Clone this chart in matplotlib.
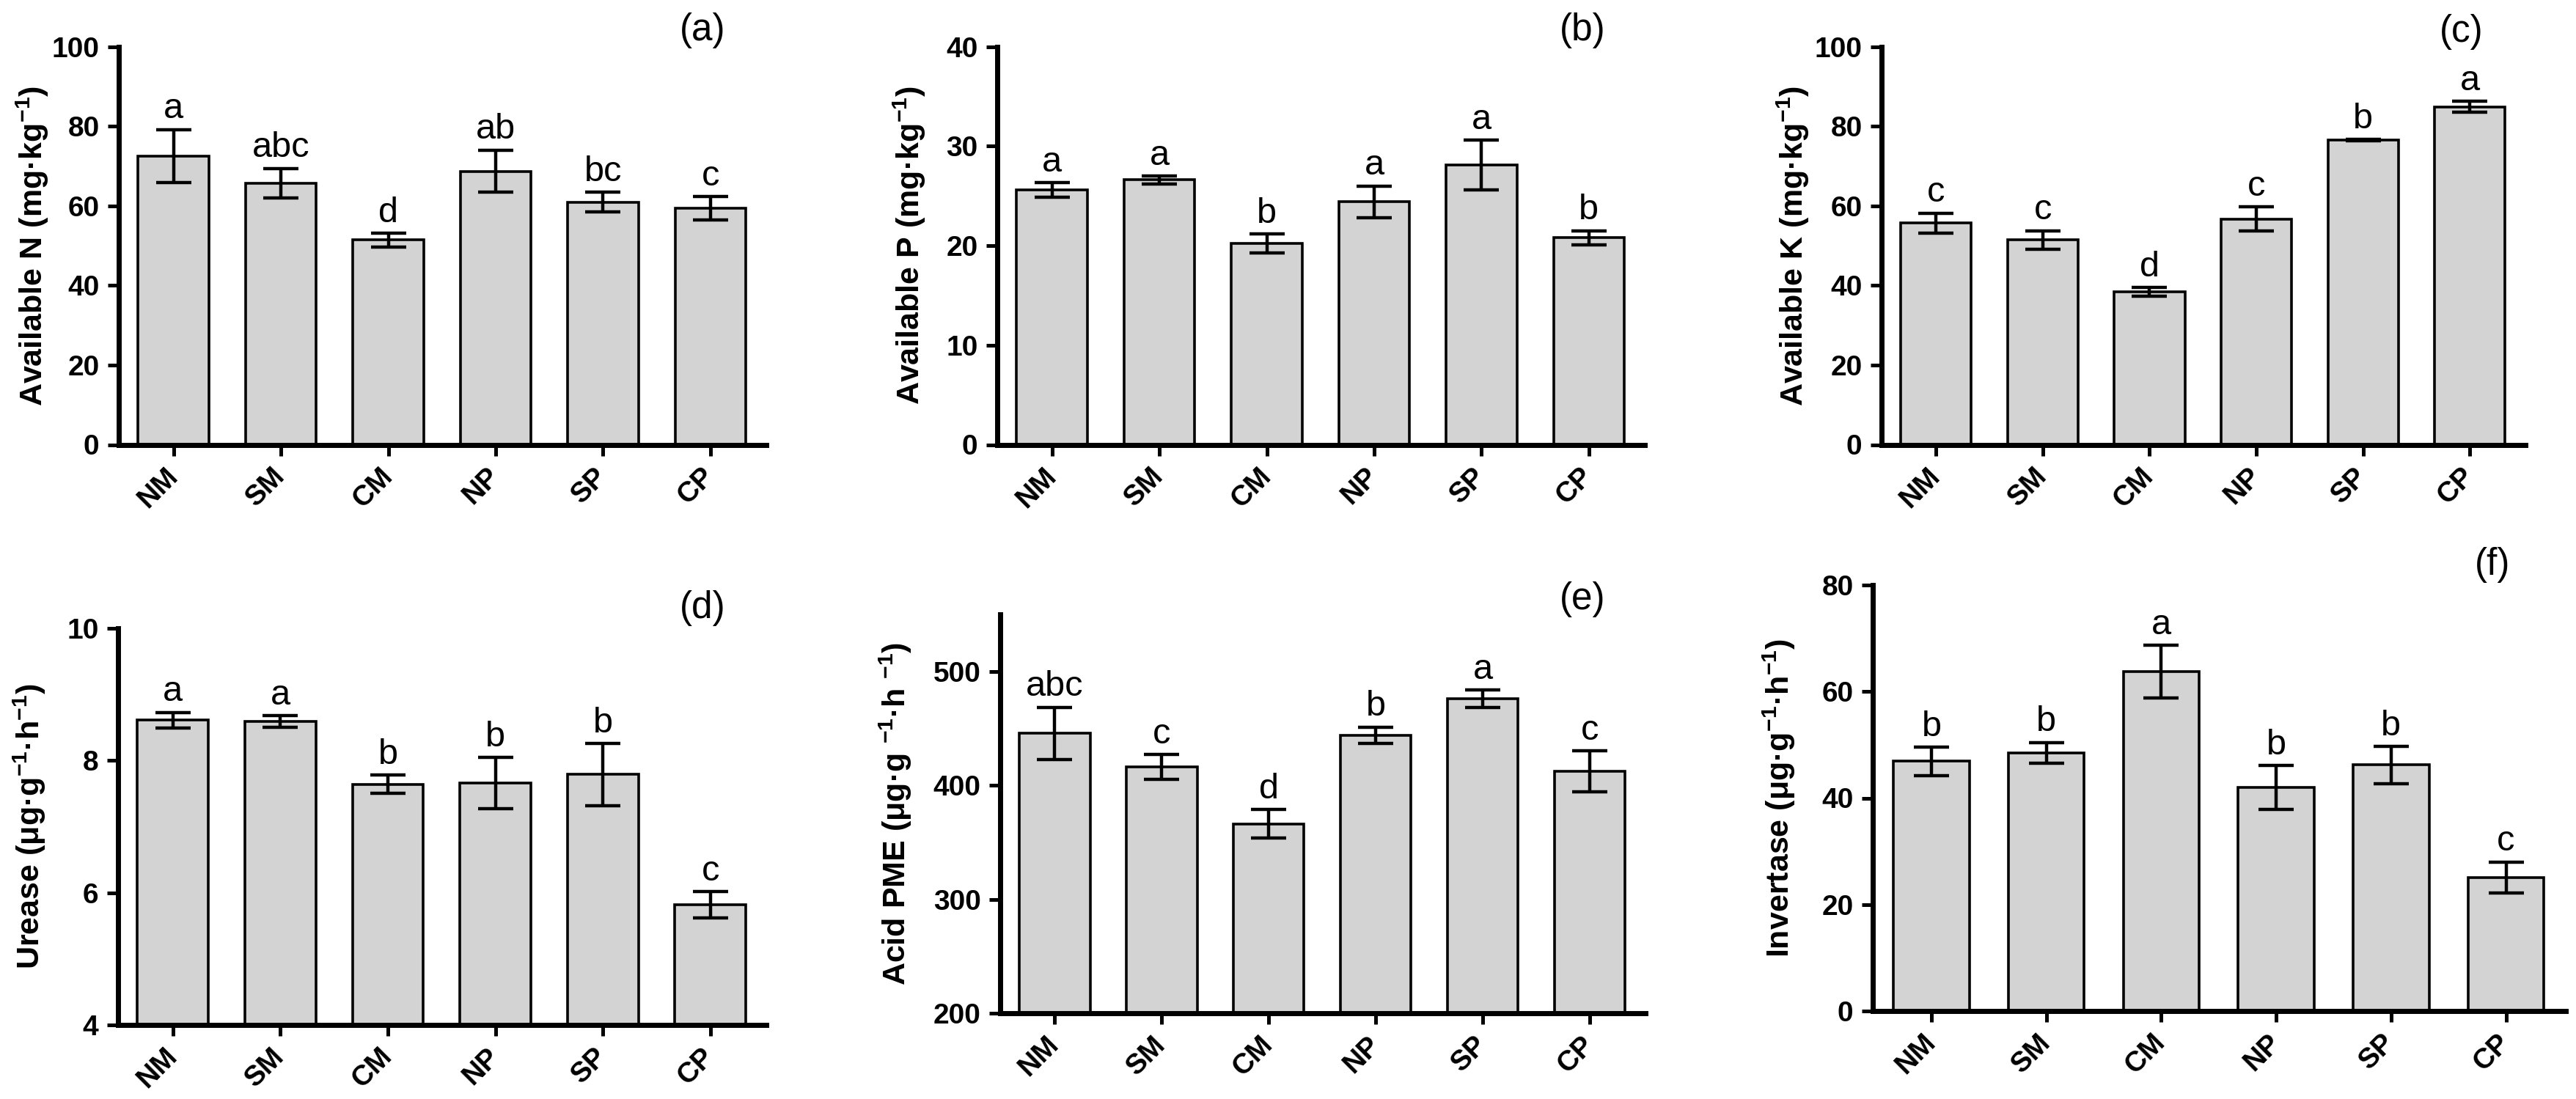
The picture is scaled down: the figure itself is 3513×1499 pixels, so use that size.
import matplotlib
matplotlib.use('Agg')
import matplotlib.pyplot as plt
import numpy as np

plt.rcParams['font.family'] = ['Liberation Sans', 'DejaVu Sans']
plt.rcParams['mathtext.default'] = 'regular'

W, H = 3513, 1499

categories = ['NM', 'SM', 'CM', 'NP', 'SP', 'CP']

# (a) Available N
avail_n = [72.5, 65.7, 51.4, 68.7, 60.9, 59.4]
avail_n_err = [6.7, 3.7, 1.7, 5.3, 2.5, 2.9]
avail_n_letters = ['a', 'abc', 'd', 'ab', 'bc', 'c']

# (b) Available P
avail_p = [25.6, 26.6, 20.2, 24.4, 28.1, 20.8]
avail_p_err = [0.75, 0.4, 0.95, 1.6, 2.5, 0.7]
avail_p_letters = ['a', 'a', 'b', 'a', 'a', 'b']

# (c) Available K
avail_k = [55.7, 51.4, 38.4, 56.7, 76.5, 84.9]
avail_k_err = [2.5, 2.35, 1.1, 3.05, 0.2, 1.35]
avail_k_letters = ['c', 'c', 'd', 'c', 'b', 'a']

# (d) Urease
urease = [8.61, 8.59, 7.64, 7.66, 7.79, 5.82]
urease_err = [0.12, 0.09, 0.14, 0.39, 0.47, 0.20]
urease_letters = ['a', 'a', 'b', 'b', 'b', 'c']

# (e) Acid PME
pme = [445.5, 416.2, 366.3, 443.9, 475.9, 412.5]
pme_err = [23.0, 10.8, 12.4, 7.2, 7.7, 17.9]
pme_letters = ['abc', 'c', 'd', 'b', 'a', 'c']

# (f) Invertase
invertase = [46.9, 48.5, 63.75, 42.0, 46.2, 25.1]
invertase_err = [2.65, 1.95, 4.9, 4.15, 3.45, 2.9]
invertase_letters = ['b', 'b', 'a', 'b', 'b', 'c']

panels = [
    dict(vals=avail_n, err=avail_n_err, letters=avail_n_letters,
         ylabel='Available N (mg·kg$^{-1}$)', ylim=(0, 100), yticks=[0, 20, 40, 60, 80, 100],
         tag='(a)', box=(162, 1045, 63.6, 606.5), laboff=93, tagpos=(958, 41)),
    dict(vals=avail_p, err=avail_p_err, letters=avail_p_letters,
         ylabel='Available P (mg·kg$^{-1}$)', ylim=(0, 40), yticks=[0, 10, 20, 30, 40],
         tag='(b)', box=(1360, 2243, 63.6, 606.5), laboff=95, tagpos=(2158, 41)),
    dict(vals=avail_k, err=avail_k_err, letters=avail_k_letters,
         ylabel='Available K (mg·kg$^{-1}$)', ylim=(0, 100), yticks=[0, 20, 40, 60, 80, 100],
         tag='(c)', box=(2566, 3444, 63.6, 606.5), laboff=96, tagpos=(3357, 43)),
    dict(vals=urease, err=urease_err, letters=urease_letters,
         ylabel='Urease (μg·g$^{-1}$·h$^{-1}$)', ylim=(4, 10), yticks=[4, 6, 8, 10],
         tag='(d)', box=(161, 1045, 857, 1398), laboff=96, tagpos=(958, 830)),
    dict(vals=pme, err=pme_err, letters=pme_letters,
         ylabel='Acid PME (μg·g $^{-1}$·h $^{-1}$)', ylim=(200, 550), yticks=[200, 300, 400, 500],
         tag='(e)', box=(1364, 2244, 838, 1382), laboff=118, tagpos=(2158, 817)),
    dict(vals=invertase, err=invertase_err, letters=invertase_letters,
         ylabel='Invertase (μg·g$^{-1}$·h$^{-1}$)', ylim=(0, 80), yticks=[0, 20, 40, 60, 80],
         tag='(f)', box=(2554, 3499, 798, 1379), laboff=103, tagpos=(3399, 771)),
]

fig = plt.figure(figsize=(W / 100, H / 100), dpi=100)
x = np.arange(len(categories))

for p in panels:
    x0, x1, ytop, ybot = p['box']
    ax = fig.add_axes([x0 / W, 1 - ybot / H, (x1 - x0) / W, (ybot - ytop) / H])
    ax.bar(x, p['vals'], width=0.66, color='#D3D3D3', edgecolor='black',
           linewidth=2.6, zorder=2)
    ax.errorbar(x, p['vals'], yerr=p['err'], fmt='none', ecolor='black',
                elinewidth=3.2, capsize=17, capthick=3.2, zorder=3)
    for xi, v, e, t in zip(x, p['vals'], p['err'], p['letters']):
        ax.annotate(t, xy=(xi, v + e), xytext=(0, 11), textcoords='offset points',
                    ha='center', va='baseline', fontsize=35, zorder=4)
    ax.set_xlim(-0.51, 5.52)
    ax.set_ylim(*p['ylim'])
    ax.set_yticks(p['yticks'])
    ax.set_yticklabels([str(t) for t in p['yticks']], fontweight='bold')
    ax.set_xticks(x)
    ax.set_xticklabels(categories, fontweight='bold', rotation=45, ha='right',
                       va='center', rotation_mode='anchor')
    for s in ['top', 'right']:
        ax.spines[s].set_visible(False)
    for s in ['left', 'bottom']:
        ax.spines[s].set_linewidth(5)
        ax.spines[s].set_capstyle('projecting')
    ax.tick_params(axis='both', length=11, width=3.6, labelsize=28, direction='out')
    ax.tick_params(axis='y', pad=8)
    ax.tick_params(axis='x', pad=16)
    ax.set_ylabel(p['ylabel'], fontsize=31, fontweight='bold')
    ax.yaxis.set_label_coords(-p['laboff'] / (x1 - x0), 0.5)
    fig.text(p['tagpos'][0] / W, 1 - p['tagpos'][1] / H, p['tag'],
             ha='center', va='center', fontsize=37)

fig.savefig('out.png', dpi=100)
